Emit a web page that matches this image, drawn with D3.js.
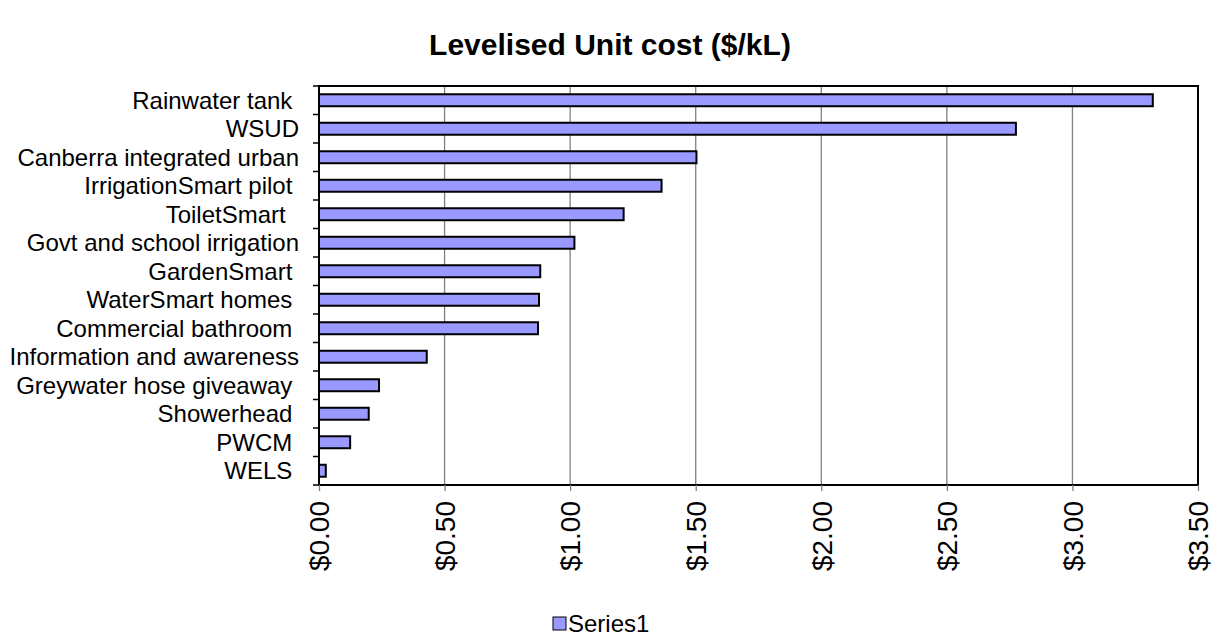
<!DOCTYPE html>
<html>
<head>
<meta charset="utf-8">
<script src="https://cdn.jsdelivr.net/npm/d3@7"></script>
<style>
  body { margin: 0; background: #fff; }
  text { font-family: Arial, "Liberation Sans", sans-serif; }
</style>
</head>
<body>
<div id="chart"></div>
<script>
// data (top to bottom)
var categories = ["Rainwater tank ", "WSUD", "Canberra integrated urban", "IrrigationSmart pilot ",
    "ToiletSmart  ", "Govt and school irrigation", "GardenSmart ", "WaterSmart homes ",
    "Commercial bathroom ", "Information and awareness", "Greywater hose giveaway ",
    "Showerhead ", "PWCM ", "WELS "];
var values = [3.32, 2.775, 1.503, 1.364, 1.213, 1.017, 0.881, 0.876, 0.872, 0.429, 0.239, 0.198, 0.124, 0.027];
var xTicks = [0, 0.5, 1, 1.5, 2, 2.5, 3, 3.5];
var title = "Levelised Unit cost ($/kL)";
var seriesName = "Series1";

var svgWidth = 1222, svgHeight = 636;
var margin = { top: 86, right: 24, bottom: 151, left: 319 };
var chartWidth = svgWidth - margin.left - margin.right;
var chartHeight = svgHeight - margin.top - margin.bottom;

var svg = d3.select("#chart").append("svg")
    .attr("width", svgWidth)
    .attr("height", svgHeight);

var chartGroup = svg.append("g")
    .attr("transform", `translate(${margin.left}, ${margin.top})`);

var xScale = d3.scaleLinear().domain([0, 3.5]).range([0, chartWidth]);
var yScale = d3.scaleBand().domain(categories).range([0, chartHeight]).paddingInner(0.58).paddingOuter(0.29);
var bandStep = chartHeight / categories.length;

// gridlines
chartGroup.selectAll("line.grid")
    .data(xTicks.slice(1, -1))
    .enter().append("line")
    .attr("class", "grid")
    .attr("x1", d => xScale(d)).attr("x2", d => xScale(d))
    .attr("y1", 0).attr("y2", chartHeight)
    .attr("stroke", "#808080").attr("stroke-width", 1.3);

// bars
chartGroup.selectAll("rect.bar")
    .data(values)
    .enter().append("rect")
    .attr("class", "bar")
    .attr("x", 0)
    .attr("y", (d, i) => yScale(categories[i]))
    .attr("width", d => xScale(d))
    .attr("height", yScale.bandwidth())
    .attr("fill", "#9999ff")
    .attr("stroke", "#000")
    .attr("stroke-width", 2);

// plot frame
chartGroup.append("rect")
    .attr("x", 0).attr("y", 0)
    .attr("width", chartWidth).attr("height", chartHeight)
    .attr("fill", "none").attr("stroke", "#000").attr("stroke-width", 2);

// x axis
var bottomAxis = d3.axisBottom(xScale).tickValues(xTicks).tickSize(6).tickFormat(d => "$" + d3.format(".2f")(d));
var xAxisG = chartGroup.append("g")
    .attr("transform", `translate(0, ${chartHeight})`)
    .call(bottomAxis);
xAxisG.select(".domain").remove();
xAxisG.selectAll(".tick line").attr("stroke", "#808080").attr("stroke-width", 1.3);
xAxisG.selectAll(".tick text")
    .attr("transform", "rotate(-90)")
    .attr("x", -16).attr("y", 0).attr("dy", "0.35em")
    .style("text-anchor", "end")
    .style("font-size", "28px")
    .attr("fill", "#000");

// y axis ticks between categories
var tickYs = d3.range(categories.length + 1).map(i => i * bandStep);
chartGroup.selectAll("line.ytick")
    .data(tickYs)
    .enter().append("line")
    .attr("x1", -6).attr("x2", 0)
    .attr("y1", d => d).attr("y2", d => d)
    .attr("stroke", "#000").attr("stroke-width", 1.5);

// y labels
chartGroup.selectAll("text.ylab")
    .data(categories)
    .enter().append("text")
    .attr("class", "ylab")
    .attr("x", -20)
    .attr("y", d => yScale(d) + yScale.bandwidth() / 2)
    .attr("dy", "0.35em")
    .style("text-anchor", "end")
    .style("font-size", "24px")
    .style("white-space", "pre")
    .text(d => d);

// title
svg.append("text")
    .attr("x", 610).attr("y", 55)
    .style("text-anchor", "middle")
    .style("font-size", "30px")
    .style("font-weight", "bold")
    .text(title);

// legend
svg.append("rect")
    .attr("x", 553).attr("y", 617).attr("width", 13).attr("height", 13)
    .attr("fill", "#9999ff").attr("stroke", "#000").attr("stroke-width", 1);
svg.append("text")
    .attr("x", 568).attr("y", 624).attr("dy", "0.35em")
    .style("font-size", "24px")
    .text(seriesName);
</script>
</body>
</html>
